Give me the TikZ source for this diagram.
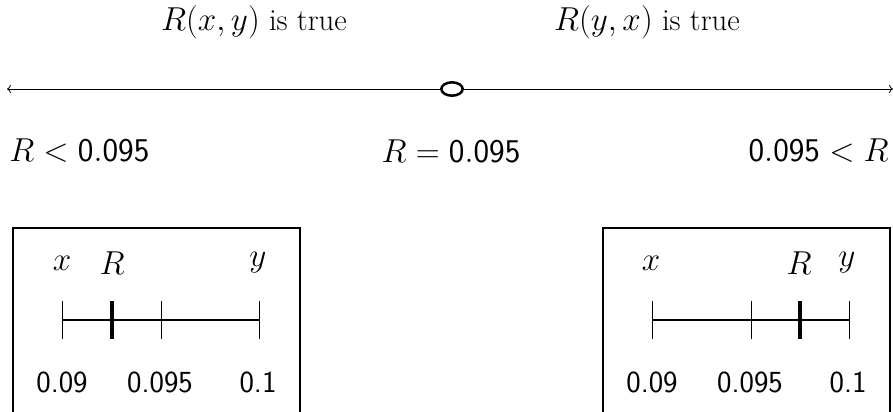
\documentclass[tikz,border=0pt]{standalone}
\usepackage{amsmath}
\usetikzlibrary{shapes.geometric, arrows.meta, positioning}
\tikzset{
    lbl/.style={inner sep=0pt, font=\fontsize{23}{27}\selectfont},
    num/.style={inner sep=0pt, font=\fontsize{23}{27}\selectfont\sffamily},
    ring/.style={ellipse, draw, line width=1.9pt, minimum width=16pt, minimum height=10pt, inner sep=0pt},
    mainline/.style={->, line width=0.6pt},
    frame/.style={draw, line width=0.9pt},
    scaleline/.style={line width=1pt},
    tickmark/.style={line width=0.6pt},
    rmark/.style={line width=2.4pt}
}

\begin{document}
\begin{tikzpicture}[x=0.75pt, y=-0.75pt]
    \useasboundingbox (0,0) rectangle (893,411);

    % top: the two halves of the line
    \node [lbl] (truexy) at (254,22) {$R(x,y)$ is true};
    \node [lbl] (trueyx) at (647,22) {$R(y,x)$ is true};
    \node [ring] (eq) at (452,89) {};
    \coordinate (lend) at (7,89);
    \coordinate (rend) at (893,89);
    \draw [mainline] (eq) -- (lend);
    \draw [mainline] (eq) -- (rend);

    \node [lbl, anchor=west] (less) at (9,151) {$R<\mathsf{0.095}$};
    \node [lbl] (equal) at (451,151) {$R=\mathsf{0.095}$};
    \node [lbl, anchor=east] (more) at (889,151) {$\mathsf{0.095}<R$};

    % left box
    \draw [frame] (13,228) rectangle (300,440);
    \node [lbl] (lx) at (62,263) {$x$};
    \node [lbl] (lr) at (112,263) {$R$};
    \node [lbl] (ly) at (258,263) {$y$};
    \coordinate (la) at (62,320);
    \coordinate (lb) at (161,320);
    \coordinate (lc) at (259,320);
    \coordinate (lm) at (112,320);
    \draw [scaleline] (la) -- (lc);
    \draw [tickmark] ([yshift=-14pt]la) -- ([yshift=14pt]la);
    \draw [tickmark] ([yshift=-14pt]lb) -- ([yshift=14pt]lb);
    \draw [tickmark] ([yshift=-14pt]lc) -- ([yshift=14pt]lc);
    \draw [rmark] ([yshift=-14pt]lm) -- ([yshift=14pt]lm);
    \node [num] (ln1) at (62,382) {0.09};
    \node [num] (ln2) at (160,382) {0.095};
    \node [num] (ln3) at (258,382) {0.1};

    % right box
    \draw [frame] (603,228) rectangle (890,440);
    \node [lbl] (rx) at (651,263) {$x$};
    \node [lbl] (rr) at (799,263) {$R$};
    \node [lbl] (ry) at (847,263) {$y$};
    \coordinate (ra) at (652,320);
    \coordinate (rb) at (751,320);
    \coordinate (rc) at (849,320);
    \coordinate (rm) at (800,320);
    \draw [scaleline] (ra) -- (rc);
    \draw [tickmark] ([yshift=-14pt]ra) -- ([yshift=14pt]ra);
    \draw [tickmark] ([yshift=-14pt]rb) -- ([yshift=14pt]rb);
    \draw [tickmark] ([yshift=-14pt]rc) -- ([yshift=14pt]rc);
    \draw [rmark] ([yshift=-14pt]rm) -- ([yshift=14pt]rm);
    \node [num] (rn1) at (652,382) {0.09};
    \node [num] (rn2) at (750,382) {0.095};
    \node [num] (rn3) at (848,382) {0.1};
\end{tikzpicture}
\end{document}
